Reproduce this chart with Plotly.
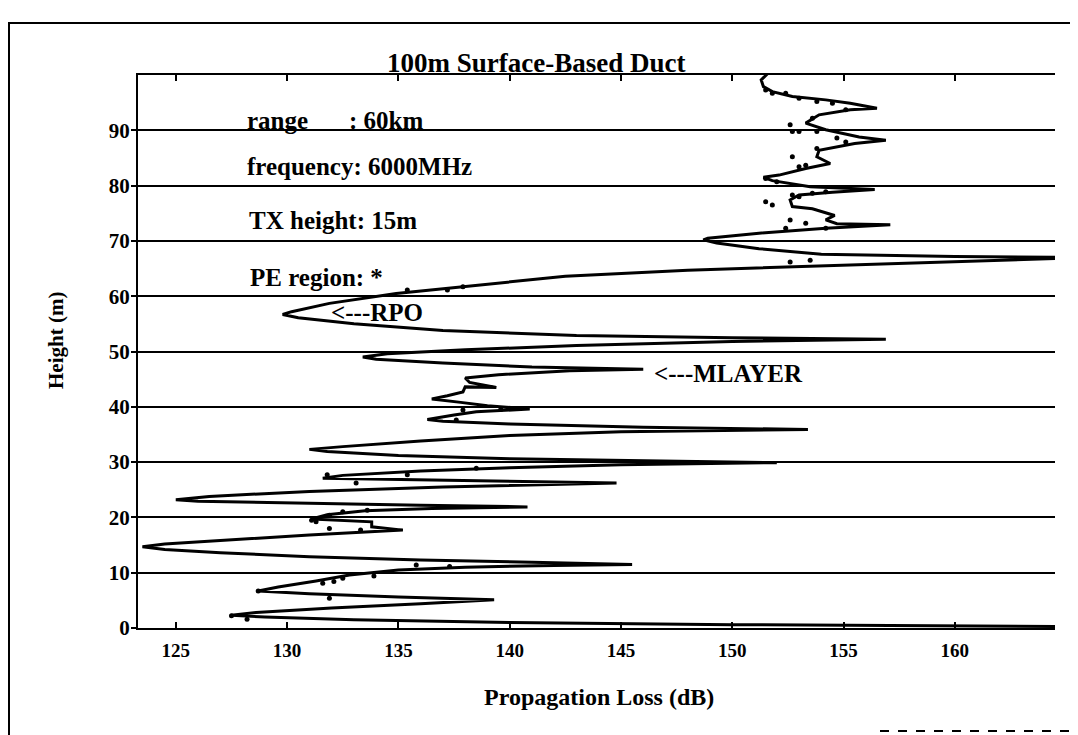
import plotly.graph_objects as go

# ---------------- data ----------------
curve_loss = [166.0, 150.0, 140.0, 133.0, 129.0, 127.5, 128.6, 132.0, 136.0, 139.3,
              135.0, 131.0, 128.7, 129.6, 131.3, 132.8, 135.0, 138.0, 142.0, 145.5,
              141.0, 136.0, 131.0, 127.0, 124.5, 123.5, 124.5, 127.5, 131.0, 135.2,
              133.8, 133.8, 132.5, 131.1, 131.8, 133.5, 136.5, 140.8, 136.0, 130.0,
              126.0, 125.0, 126.5, 131.0, 137.0, 144.8, 138.0, 133.0, 131.6, 132.5,
              136.0, 140.0, 145.0, 152.0, 145.0, 140.0, 135.0, 131.8, 131.0, 132.5,
              136.0, 140.0, 145.0, 153.4, 146.0, 140.0, 137.0, 136.3, 137.5, 138.5,
              140.9, 139.0, 137.8, 136.5, 137.2, 137.9, 138.0, 139.4, 138.2, 138.0,
              139.5, 142.7, 146.0, 141.0, 137.0, 134.0, 133.4, 134.5, 138.0, 143.0,
              150.0, 156.9, 150.0, 143.0, 137.0, 133.0, 130.5, 129.8, 130.2, 131.9,
              134.9, 137.9, 142.5, 148.0, 155.0, 161.0, 166.0, 160.0, 154.0, 151.2,
              149.3, 148.7, 148.9, 151.2, 154.2, 157.1, 154.7, 154.2, 154.6, 153.6,
              152.7, 152.6, 153.0, 154.5, 156.4, 153.5, 151.8, 151.4, 152.1, 153.3,
              154.4, 153.8, 153.9, 155.5, 156.9, 155.7, 154.2, 153.3, 153.9, 155.3,
              156.5, 155.3, 154.2, 152.7, 151.8, 151.4, 151.3, 151.6]
curve_height = [0.25, 0.6, 1.0, 1.5, 2.0, 2.3, 2.8, 3.6, 4.4, 5.1,
                5.6, 6.2, 6.7, 7.4, 8.5, 9.6, 10.5, 11.0, 11.3, 11.5,
                11.9, 12.3, 12.9, 13.6, 14.2, 14.7, 15.2, 16.0, 16.8, 17.7,
                18.3, 19.2, 19.5, 19.7, 20.5, 21.2, 21.6, 21.9, 22.2, 22.6,
                22.9, 23.2, 23.8, 24.7, 25.5, 26.2, 26.6, 26.9, 27.1, 27.6,
                28.4, 29.0, 29.5, 29.9, 30.3, 30.6, 31.2, 31.9, 32.3, 32.8,
                33.8, 34.8, 35.5, 35.9, 36.3, 36.9, 37.4, 37.7, 38.5, 39.1,
                39.6, 40.2, 40.8, 41.4, 42.0, 42.7, 43.6, 43.5, 44.4, 45.2,
                45.8, 46.5, 46.8, 47.2, 47.9, 48.6, 49.0, 49.6, 50.3, 51.1,
                51.8, 52.2, 52.5, 52.9, 53.8, 55.0, 56.1, 56.7, 57.2, 58.7,
                60.5, 61.7, 63.6, 64.7, 65.6, 66.4, 67.0, 67.2, 67.6, 68.6,
                69.6, 70.2, 70.5, 71.4, 72.3, 72.9, 73.1, 73.8, 74.6, 75.8,
                76.2, 77.4, 78.3, 78.8, 79.3, 79.8, 80.9, 81.5, 81.9, 83.1,
                84.0, 85.2, 86.4, 87.6, 88.2, 88.8, 90.1, 91.3, 92.8, 93.7,
                94.0, 94.9, 95.5, 96.1, 97.0, 97.9, 99.1, 100.3]

# PE region points (dots)
pe_loss = [127.5, 128.2, 128.7, 131.6, 132.1, 132.5, 133.9, 131.9, 131.1, 131.3,
           131.9, 131.9, 132.5, 133.3, 133.6, 135.8, 137.3, 133.1, 131.8, 137.6,
           137.9, 139.6, 138.5, 135.4, 135.4, 137.2, 137.9,
           151.5, 151.8, 152.4, 153.0, 153.8, 154.5, 155.1, 153.6, 152.6, 152.7,
           153.0, 153.8, 154.7, 155.1, 153.8, 152.7, 153.0, 153.3, 151.5, 152.0,
           152.7, 153.0, 153.6, 154.2, 151.5, 151.8, 152.6, 153.3, 154.2, 152.6,
           153.5, 152.4]
pe_height = [2.2, 1.6, 6.7, 8.1, 8.4, 9.0, 9.4, 5.4, 19.5, 19.2,
             18.0, 20.4, 21.0, 17.7, 21.3, 11.4, 11.1, 26.2, 27.7, 37.6,
             39.4, 39.5, 28.9, 27.7, 61.1, 61.1, 61.7,
             97.3, 96.7, 96.7, 95.8, 95.2, 94.9, 93.7, 92.2, 91.0, 89.8,
             89.8, 89.8, 88.6, 87.9, 86.7, 85.2, 83.4, 83.7, 81.3, 80.7,
             78.3, 78.0, 78.6, 78.9, 77.1, 76.5, 73.8, 73.2, 72.3, 66.2,
             66.5, 72.3]

x_ticks = [125, 130, 135, 140, 145, 150, 155, 160]
y_ticks = [0, 10, 20, 30, 40, 50, 60, 70, 80, 90]

title_text = "100m Surface-Based Duct"
x_title = "Propagation Loss (dB)"
y_title = "Height (m)"

# ---------------- figure ----------------
OFF = 8  # page body margin
W, H = 1078 - OFF, 735 - OFF
L, T = 138 - OFF, 75 - OFF
R = W - (1055 - OFF)
B = H - (628 - OFF)
PW, PH = W - L - R, H - T - B
X0, X1 = 123.3, 164.5

def px(x):
    return (x - OFF - L) / PW

def py(y):
    return (H - B - (y - OFF)) / PH

FONT = "Liberation Serif"

fig = go.Figure()
fig.add_trace(go.Scatter(x=curve_loss, y=curve_height, mode="lines",
                         line=dict(color="black", width=3), showlegend=False,
                         hoverinfo="skip"))
fig.add_trace(go.Scatter(x=pe_loss, y=pe_height, mode="markers",
                         marker=dict(color="black", size=5), showlegend=False,
                         hoverinfo="skip"))

fig.update_layout(
    width=W, height=H,
    margin=dict(l=L, r=R, t=T, b=B, pad=0),
    paper_bgcolor="white", plot_bgcolor="white",
    font=dict(family=FONT, color="black"),
    xaxis=dict(range=[X0, X1], tickvals=x_ticks, ticktext=[str(v) for v in x_ticks],
               showgrid=False, zeroline=False, showline=True, linecolor="black",
               linewidth=2, mirror="ticks", ticks="inside", ticklen=6,
               tickcolor="black", tickwidth=2, ticklabelstandoff=4,
               tickfont=dict(family=FONT, size=19, color="black", weight="bold")),
    yaxis=dict(range=[0, 100], tickvals=y_ticks, ticktext=[str(v) for v in y_ticks],
               showgrid=True, gridcolor="black", gridwidth=2, zeroline=False,
               showline=True, linecolor="black", linewidth=2, mirror=False,
               ticks="outside", ticklen=5, tickcolor="black", tickwidth=2,
               ticklabelstandoff=-3,
               tickfont=dict(family=FONT, size=21, color="black", weight="bold")),
)

ann = []
def txt(text, x, y, size, xanchor="left", xref="x", yref="y", angle=0):
    ann.append(dict(text=text, x=x, y=y, xref=xref, yref=yref, showarrow=False,
                    xanchor=xanchor, yanchor="middle", textangle=angle,
                    font=dict(family=FONT, size=size, color="black", weight="bold")))

txt(title_text, px(536), py(63), 27, xanchor="center", xref="paper", yref="paper")
txt(x_title, px(599), py(697), 24, xanchor="center", xref="paper", yref="paper")
txt(y_title, px(56), py(341), 21, xanchor="center", xref="paper", yref="paper", angle=-90)

txt("range", 128.1, 91.8, 25)
txt(": 60km", 132.7, 91.8, 25)
txt("frequency: 6000MHz", 128.1, 83.4, 25)
txt("TX height: 15m", 128.2, 73.6, 25)
txt("PE region: *", 128.25, 63.3, 25)
txt("<---RPO", 131.9, 57.0, 25)
txt("<---MLAYER", 146.4, 46.1, 25)
fig.update_layout(annotations=ann)

# outer page frame
shapes = [
    dict(type="line", xref="paper", yref="paper", x0=px(8), x1=px(1078), y0=py(23), y1=py(23),
         line=dict(color="black", width=2)),
    dict(type="line", xref="paper", yref="paper", x0=px(9), x1=px(9), y0=py(23), y1=py(735),
         line=dict(color="black", width=2)),
    dict(type="line", xref="paper", yref="paper", x0=px(880), x1=px(1078), y0=py(731), y1=py(731),
         line=dict(color="black", width=2, dash="dash")),
]
fig.update_layout(shapes=shapes)

fig.write_html("out.html")
